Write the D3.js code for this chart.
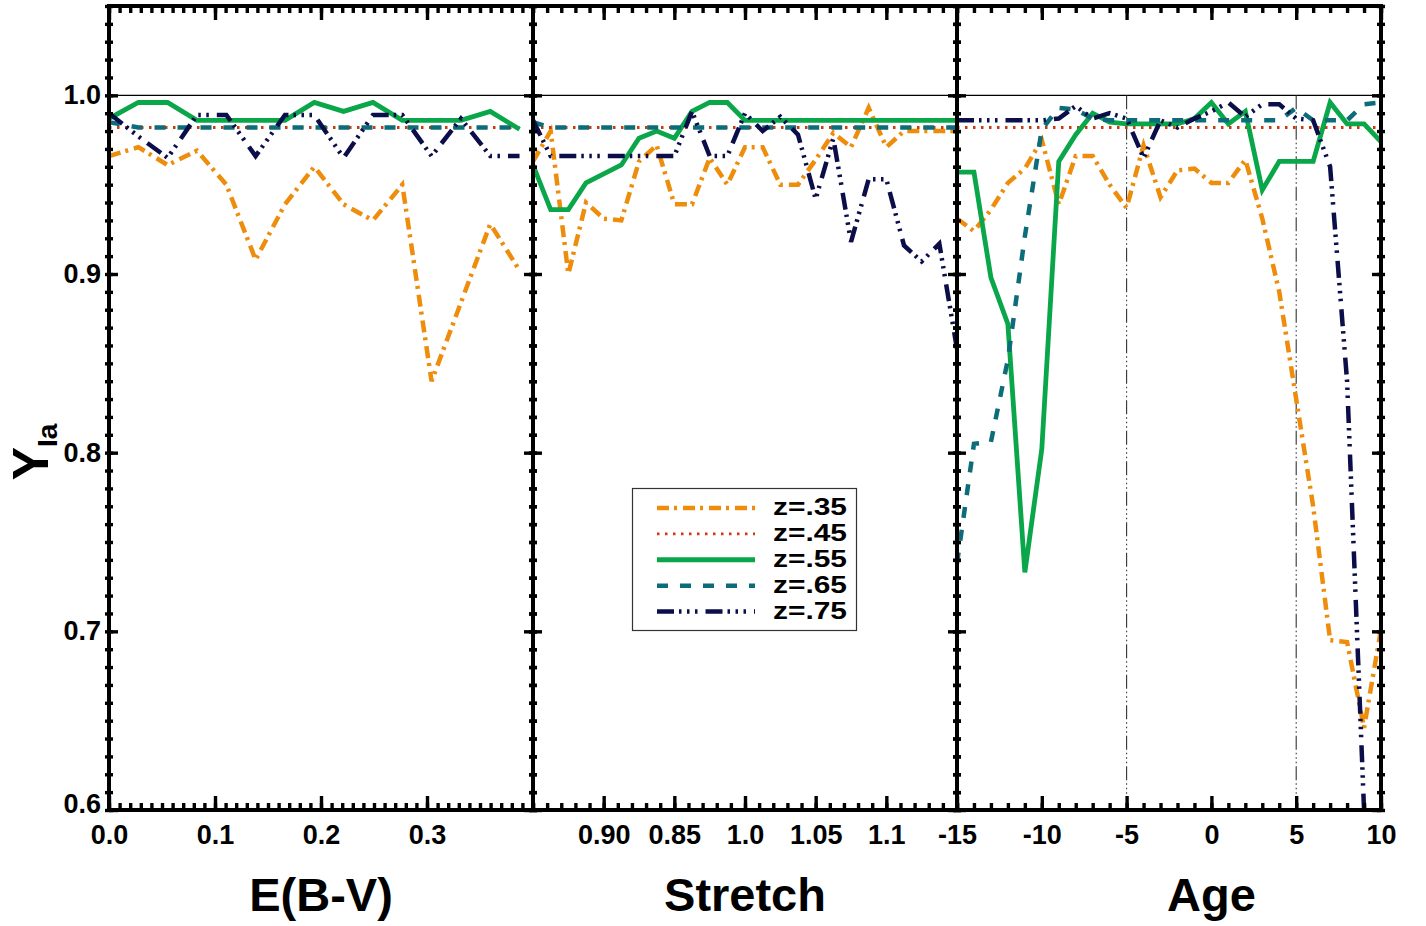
<!DOCTYPE html>
<html>
<head>
<meta charset="utf-8">
<script src="https://cdn.jsdelivr.net/npm/d3@7"></script>
<style>
  body { margin: 0; background: #fff; }
  text { font-family: "Liberation Sans", Arial, Helvetica, sans-serif; font-weight: bold; }
</style>
</head>
<body>
<svg id="chart" width="1426" height="926"></svg>
<script>
// ---- data ----
const seriesNames = ["z=.35", "z=.45", "z=.55", "z=.65", "z=.75"];

const ebv = [0, 0.0277, 0.0553, 0.083, 0.1107, 0.1383, 0.166, 0.1937, 0.2213, 0.249, 0.2767, 0.3043, 0.332, 0.3597, 0.3873];
const ebvZ35 = [0.966, 0.971, 0.961, 0.969, 0.950, 0.908, 0.939, 0.960, 0.939, 0.930, 0.950, 0.840, 0.884, 0.928, 0.902];
const ebvZ45 = [0.982, 0.982, 0.982, 0.982, 0.982, 0.982, 0.982, 0.982, 0.982, 0.982, 0.982, 0.982, 0.982, 0.982, 0.982];
const ebvZ55 = [0.987, 0.996, 0.996, 0.986, 0.986, 0.986, 0.986, 0.996, 0.991, 0.996, 0.986, 0.986, 0.986, 0.991, 0.981];
const ebvZ65 = [0.985, 0.982, 0.982, 0.982, 0.982, 0.982, 0.982, 0.982, 0.982, 0.982, 0.982, 0.982, 0.982, 0.982, 0.982];
const ebvZ75 = [0.990, 0.977, 0.965, 0.989, 0.989, 0.966, 0.989, 0.989, 0.965, 0.989, 0.989, 0.966, 0.987, 0.966, 0.966];

const stretch = [0.85, 0.8625, 0.875, 0.8875, 0.9, 0.9125, 0.925, 0.9375, 0.95, 0.9625, 0.975, 0.9875, 1.0,
                 1.0125, 1.025, 1.0375, 1.05, 1.0625, 1.075, 1.0875, 1.1, 1.1125, 1.125, 1.1375, 1.15];
const stretchZ35 = [0.963, 0.980, 0.900, 0.940, 0.931, 0.930, 0.963, 0.972, 0.939, 0.939, 0.965, 0.950, 0.971,
                    0.971, 0.950, 0.950, 0.964, 0.979, 0.971, 0.993, 0.971, 0.980, 0.980, 0.980, 0.980];
const stretchZ45 = [0.982, 0.982, 0.982, 0.982, 0.982, 0.982, 0.982, 0.982, 0.982, 0.982, 0.982, 0.982, 0.982,
                    0.982, 0.982, 0.982, 0.982, 0.982, 0.982, 0.982, 0.982, 0.982, 0.982, 0.982, 0.982];
const stretchZ55 = [0.961, 0.936, 0.936, 0.951, 0.956, 0.961, 0.976, 0.980, 0.976, 0.991, 0.996, 0.996, 0.986,
                    0.986, 0.986, 0.986, 0.986, 0.986, 0.986, 0.986, 0.986, 0.986, 0.986, 0.986, 0.986];
const stretchZ65 = [0.985, 0.982, 0.982, 0.982, 0.982, 0.982, 0.982, 0.982, 0.982, 0.982, 0.982, 0.982, 0.982,
                    0.982, 0.982, 0.982, 0.982, 0.982, 0.982, 0.982, 0.982, 0.982, 0.982, 0.982, 0.982];
const stretchZ75 = [0.986, 0.966, 0.966, 0.966, 0.966, 0.966, 0.966, 0.966, 0.966, 0.991, 0.966, 0.966, 0.990,
                    0.980, 0.988, 0.978, 0.942, 0.976, 0.918, 0.953, 0.953, 0.916, 0.907, 0.917, 0.858];

const age = [-15, -14, -13, -12, -11, -10, -9, -8, -7, -6, -5, -4, -3, -2, -1, 0, 1, 2, 3, 4, 5, 6, 7, 8, 9, 10];
const ageZ35 = [0.931, 0.924, 0.936, 0.951, 0.959, 0.975, 0.939, 0.966, 0.966, 0.950, 0.937, 0.972, 0.943,
                0.958, 0.959, 0.951, 0.951, 0.964, 0.931, 0.890, 0.830, 0.770, 0.695, 0.694, 0.646, 0.701];
const ageZ45 = [0.982, 0.982, 0.982, 0.982, 0.982, 0.982, 0.982, 0.982, 0.982, 0.982, 0.982, 0.982, 0.982,
                0.982, 0.982, 0.982, 0.982, 0.982, 0.982, 0.982, 0.982, 0.982, 0.982, 0.982, 0.982, 0.982];
const ageZ55 = [0.957, 0.957, 0.898, 0.872, 0.733, 0.802, 0.963, 0.978, 0.990, 0.985, 0.984, 0.984, 0.984,
                0.984, 0.987, 0.996, 0.984, 0.991, 0.947, 0.963, 0.963, 0.963, 0.996, 0.984, 0.984, 0.974];
const ageZ65 = [0.738, 0.805, 0.806, 0.852, 0.921, 0.981, 0.993, 0.992, 0.987, 0.986, 0.986, 0.986, 0.986,
                0.986, 0.986, 0.986, 0.986, 0.986, 0.986, 0.986, 0.993, 0.986, 0.986, 0.986, 0.995, 0.996];
const ageZ75 = [0.986, 0.986, 0.986, 0.986, 0.986, 0.986, 0.987, 0.994, 0.987, 0.990, 0.987, 0.965, 0.986,
                0.982, 0.987, 0.991, 0.996, 0.988, 0.995, 0.995, 0.987, 0.986, 0.960, 0.840, 0.600, 0.550];

const ebvTicks = [0, 0.1, 0.2, 0.3];
const ebvTickLabels = ["0.0", "0.1", "0.2", "0.3"];
const stretchTicks = [0.9, 0.95, 1.0, 1.05, 1.1];
const stretchTickLabels = ["0.90", "0.85", "1.0", "1.05", "1.1"];
const ageTicks = [-15, -10, -5, 0, 5, 10];
const ageTickLabels = ["-15", "-10", "-5", "0", "5", "10"];
const ageGuides = [-5, 5];
const yTicks = [0.6, 0.7, 0.8, 0.9, 1.0];
const yTickLabels = ["0.6", "0.7", "0.8", "0.9", "1.0"];

// ---- styles ----
const colors = ["#ee8c0c", "#cc3a0a", "#0aa64a", "#0c6c78", "#0b0e48"];
const widths = [4.5, 2.8, 4.8, 4.5, 4.5];
const dashes = ["12,5,3,6", "2.5,5.5", null, "11,12", "17,5,2.5,5.5,2.5,5.5,2.5,8"];

const svg = d3.select('#chart');
const plotTop = 6, plotBottom = 810;
const y = d3.scaleLinear().domain([0.6, 1.05]).range([plotBottom, plotTop]);
const yMinor = d3.range(60, 106).map(d => d / 100);

const panels = [
  { x0: 109, x1: 533, domain: [0, 0.4], xs: ebv, ys: [ebvZ35, ebvZ45, ebvZ55, ebvZ65, ebvZ75],
    ticks: ebvTicks, labels: ebvTickLabels, minor: d3.range(0, 41).map(d => d / 100), title: "E(B-V)", titleAt: 0.2 },
  { x0: 533, x1: 957, domain: [0.85, 1.15], xs: stretch, ys: [stretchZ35, stretchZ45, stretchZ55, stretchZ65, stretchZ75],
    ticks: stretchTicks, labels: stretchTickLabels, minor: d3.range(85, 116).map(d => d / 100), title: "Stretch", titleAt: 1.0 },
  { x0: 957, x1: 1381, domain: [-15, 10], xs: age, ys: [ageZ35, ageZ45, ageZ55, ageZ65, ageZ75],
    ticks: ageTicks, labels: ageTickLabels, minor: d3.range(-15, 11), title: "Age", titleAt: 0, guides: ageGuides }
];

function styleAxis(g, size) {
  g.select('.domain').remove();
  g.selectAll('.tick line').attr('stroke', '#000').attr('stroke-width', 3.4);
  g.selectAll('text').attr('font-size', size).attr('font-family', null).attr('fill', '#000');
}

panels.forEach((p, pi) => {
  const x = d3.scaleLinear().domain(p.domain).range([p.x0, p.x1]);
  const g = svg.append('g');
  const clipId = 'clip' + pi;
  svg.append('clipPath').attr('id', clipId)
    .append('rect').attr('x', p.x0).attr('y', plotTop).attr('width', p.x1 - p.x0).attr('height', plotBottom - plotTop);

  // reference line at 1.0
  g.append('line').attr('x1', p.x0).attr('x2', p.x1).attr('y1', y(1)).attr('y2', y(1))
    .attr('stroke', '#000').attr('stroke-width', 1.2);

  if (p.guides) {
    g.selectAll('.guide').data(p.guides).enter().append('line')
      .attr('x1', d => x(d)).attr('x2', d => x(d)).attr('y1', y(1)).attr('y2', y(0.6))
      .attr('stroke', '#333').attr('stroke-width', 1.1).attr('stroke-dasharray', '14,3,1.5,3,1.5,3,1.5,3');
  }

  const lines = g.append('g').attr('clip-path', `url(#${clipId})`);
  p.ys.forEach((vals, si) => {
    const line = d3.line().x((d, i) => x(p.xs[i])).y(d => y(d));
    lines.append('path').datum(vals).attr('d', line)
      .attr('fill', 'none').attr('stroke', colors[si]).attr('stroke-width', widths[si])
      .attr('stroke-dasharray', dashes[si]).attr('stroke-linejoin', 'miter');
  });

  // x axes (bottom labelled, top mirrored)
  g.append('g').attr('transform', `translate(0,${plotBottom})`)
    .call(d3.axisBottom(x).tickValues(p.minor).tickSize(-7).tickFormat(''))
    .call(a => styleAxis(a, 27));
  g.append('g').attr('transform', `translate(0,${plotBottom})`)
    .call(d3.axisBottom(x).tickValues(p.ticks).tickSize(-14).tickPadding(15).tickFormat((d, i) => p.labels[i]))
    .call(a => styleAxis(a, 27));
  g.append('g').attr('transform', `translate(0,${plotTop})`)
    .call(d3.axisTop(x).tickValues(p.minor).tickSize(-7).tickFormat(''))
    .call(a => styleAxis(a, 27));
  g.append('g').attr('transform', `translate(0,${plotTop})`)
    .call(d3.axisTop(x).tickValues(p.ticks).tickSize(-14).tickFormat(''))
    .call(a => styleAxis(a, 27));

  // y axes on both sides of each panel
  g.append('g').attr('transform', `translate(${p.x0},0)`)
    .call(d3.axisLeft(y).tickValues(yMinor).tickSize(-4).tickFormat(''))
    .call(a => styleAxis(a, 27))
    .call(a => a.selectAll('.tick line').attr('x1', -4));
  g.append('g').attr('transform', `translate(${p.x0},0)`)
    .call(d3.axisLeft(y).tickValues(yTicks).tickSize(-9).tickPadding(8)
      .tickFormat((d, i) => pi === 0 ? yTickLabels[i] : ''))
    .call(a => styleAxis(a, 27))
    .call(a => a.selectAll('.tick text').filter(d => d === 0.6).attr('dy', 2));
  g.append('g').attr('transform', `translate(${p.x1},0)`)
    .call(d3.axisRight(y).tickValues(yMinor).tickSize(-4).tickFormat(''))
    .call(a => styleAxis(a, 27))
    .call(a => a.selectAll('.tick line').attr('x1', 4));
  g.append('g').attr('transform', `translate(${p.x1},0)`)
    .call(d3.axisRight(y).tickValues(yTicks).tickSize(-9).tickFormat(''))
    .call(a => styleAxis(a, 27));

  g.append('rect').attr('x', p.x0).attr('y', plotTop).attr('width', p.x1 - p.x0).attr('height', plotBottom - plotTop)
    .attr('fill', 'none').attr('stroke', '#000').attr('stroke-width', 4);

  g.append('text').attr('x', x(p.titleAt)).attr('y', 911).attr('text-anchor', 'middle')
    .attr('font-size', 47).text(p.title);
});

// y axis title
const yt = svg.append('text').attr('transform', 'translate(48,452) rotate(-90)')
  .attr('text-anchor', 'middle').attr('font-size', 50);
yt.append('tspan').text('Y');
yt.append('tspan').attr('font-size', 28).attr('dy', 9).text('Ia');

// legend
const leg = svg.append('g');
leg.append('rect').attr('x', 632.5).attr('y', 488.5).attr('width', 224).attr('height', 142)
  .attr('fill', '#fff').attr('stroke', '#333').attr('stroke-width', 1.2);
const rowY = d3.scaleLinear().domain([0, 4]).range([508, 611.5]);
seriesNames.forEach((name, i) => {
  leg.append('line').attr('x1', 657).attr('x2', 755).attr('y1', rowY(i)).attr('y2', rowY(i))
    .attr('stroke', colors[i]).attr('stroke-width', widths[i]).attr('stroke-dasharray', dashes[i]);
  leg.append('text').attr('x', 847).attr('y', rowY(i) + 7).attr('text-anchor', 'end')
    .attr('font-size', 23).attr('textLength', 74).attr('lengthAdjust', 'spacingAndGlyphs').text(name);
});
</script>
</body>
</html>
